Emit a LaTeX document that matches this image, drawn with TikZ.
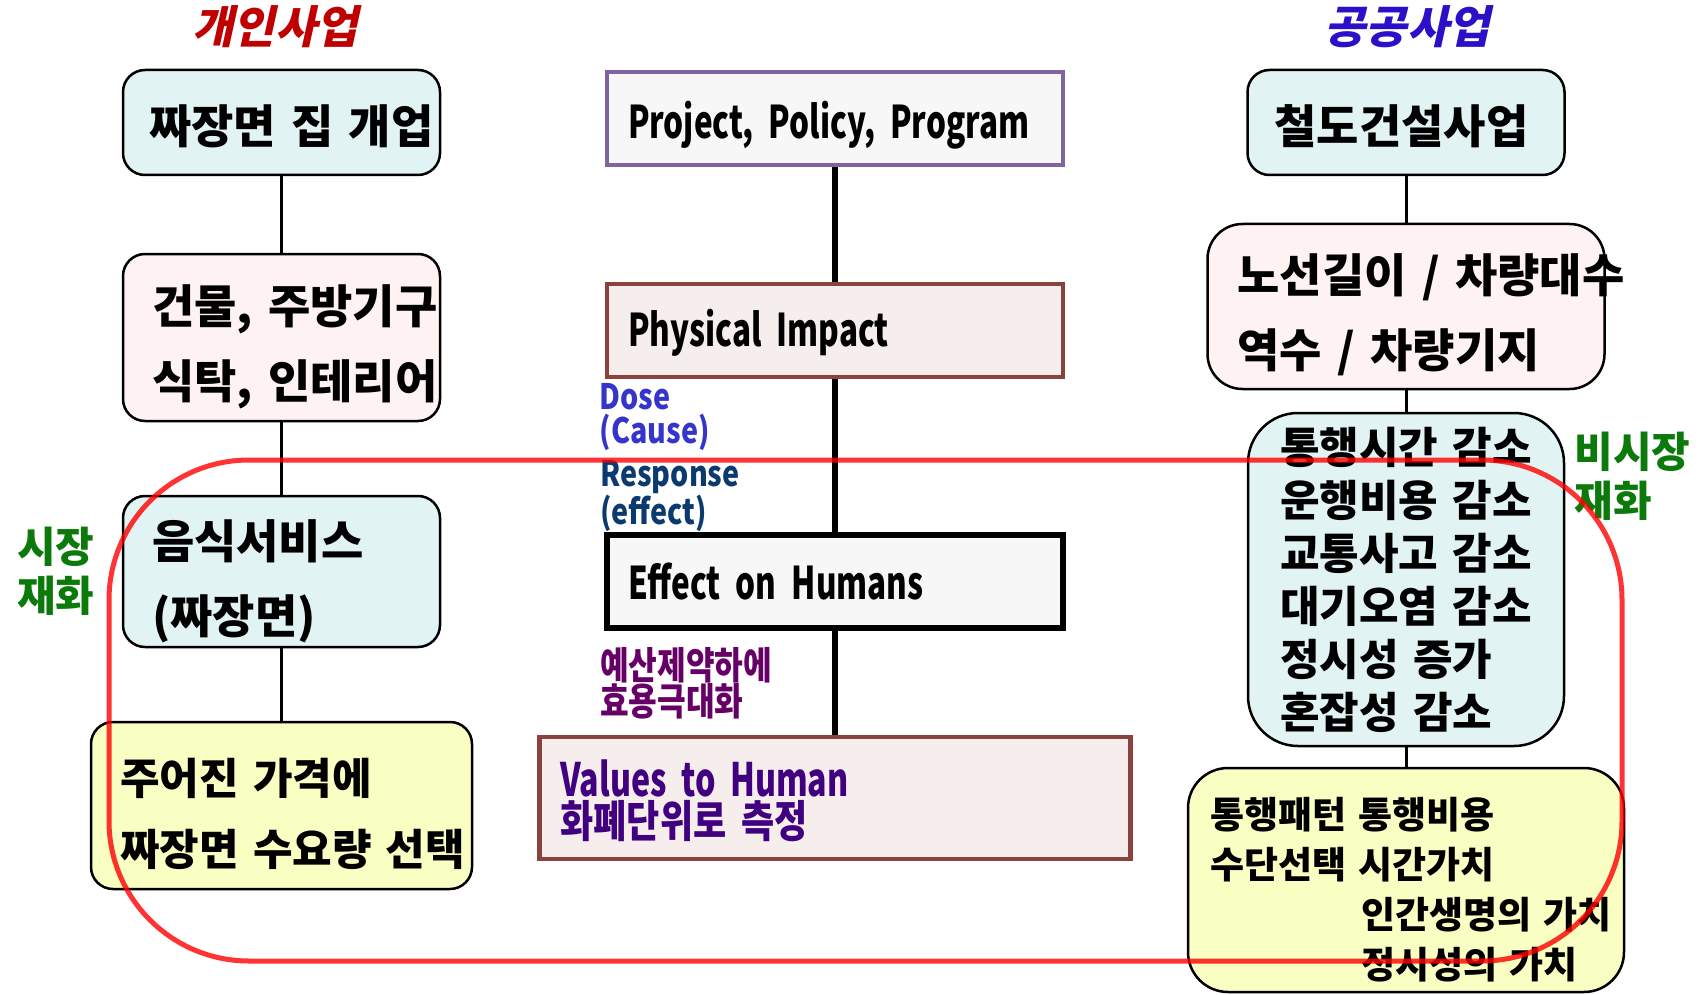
\documentclass[tikz,border=0pt]{standalone}
\usepackage{fontspec}
\setmainfont{Noto Sans CJK KR}
\newfontfamily\narrowfont{Noto Sans CJK KR}[FakeStretch=0.82]
\newfontfamily\latinfont{Noto Sans CJK KR}[FakeStretch=0.7]
\newfontfamily\slantfont{Noto Sans CJK KR}[FakeSlant=0.22]
\usetikzlibrary{positioning}

\definecolor{boxcyan}{HTML}{E1F3F3}
\definecolor{boxpink}{HTML}{FFF2F2}
\definecolor{boxyellow}{HTML}{F9FEC2}
\definecolor{boxgray}{HTML}{F7F7F7}
\definecolor{boxrose}{HTML}{F6EDED}
\definecolor{ppppurple}{HTML}{8064A2}
\definecolor{brick}{HTML}{8A423E}
\definecolor{titlered}{HTML}{C00000}
\definecolor{titleblue}{HTML}{2A10C8}
\definecolor{mktgreen}{HTML}{0B7A0B}
\definecolor{dosecol}{HTML}{3535CC}
\definecolor{respcol}{HTML}{0B3A6E}
\definecolor{budgetcol}{HTML}{660066}
\definecolor{valuecol}{HTML}{400080}

\tikzset{
  rbox/.style={draw, line width=2.5pt, rounded corners=22pt, align=left, inner ysep=0pt,
    font=\bfseries\fontsize{46}{75}\selectfont},
  textdrop/.style={execute at begin node={\rule{0pt}{#1}}},
  sbox/.style={draw, line width=4.5pt, align=left, inner xsep=21pt, inner ysep=0pt,
    minimum width=456pt, minimum height=93pt, text width=414pt,
    font=\latinfont\bfseries\fontsize{45}{50}\selectfont},
  title/.style={font=\slantfont\bfseries\fontsize{45}{48}\selectfont},
  mark label/.style={align=left, inner sep=0pt, text=mktgreen,
    font=\bfseries\fontsize{42}{49}\selectfont},
  note/.style={align=left, inner sep=0pt, font=\narrowfont\bfseries\fontsize{35}{34}\selectfont},
  link/.style={line width=3pt},
  spine/.style={line width=6pt},
  ring/.style={draw=red, line width=5pt, opacity=0.8, rounded corners=140pt}
}

\begin{document}
\begin{tikzpicture}[x=1pt,y=-1pt]
\useasboundingbox (0,0) rectangle (1705,995);

\node[title, text=titlered] (privtitle) at (275,27) {개인사업};
\node[title, text=titleblue] (pubtitle) at (1407,27) {공공사업};

\node[rbox, fill=boxcyan, minimum width=317pt, minimum height=105pt, inner xsep=26pt, text width=265pt, textdrop=47pt]
  (shop) at (281.5,122.5) {짜장면~집~개업};
\node[rbox, fill=boxpink, minimum width=317pt, minimum height=167pt, inner xsep=29pt, text width=259pt, textdrop=58pt]
  (build) at (281.5,337.5) {건물,~주방기구\\식탁,~인테리어};
\node[rbox, fill=boxcyan, minimum width=317pt, minimum height=151pt, inner xsep=29pt, text width=259pt, textdrop=58pt]
  (food) at (281.5,571.5) {음식서비스\\(짜장면)};
\node[rbox, fill=boxyellow, minimum width=381pt, minimum height=167pt, inner xsep=29pt, text width=323pt,
  font=\bfseries\fontsize{43}{71}\selectfont, textdrop=54pt]
  (demand) at (281.5,805.5) {주어진~가격에\\짜장면~수요량~선택};
\node[mark label, left=27pt of food] (mkt) {시장\\재화};

\node[sbox, draw=ppppurple, fill=boxgray, textdrop=50pt] (ppp) at (835,118.5) {Project,~Policy,~Program};
\node[sbox, draw=brick, fill=boxrose, textdrop=42pt] (phys) at (835,330.5) {Physical~Impact};
\node[sbox, fill=boxgray, line width=6pt] (effect) at (835,581.5) {Effect~on~Humans};
\node[sbox, draw=brick, fill=boxrose, minimum width=591pt, minimum height=122pt, text width=549pt,
  text=valuecol, font=\narrowfont\bfseries\fontsize{44}{41}\selectfont, textdrop=42pt]
  (value) at (835,798) {{\latinfont\fontsize{46}{41}\selectfont Values~to~Human}\\화폐단위로~측정};
\node[note, text=dosecol, below=4pt of phys.south west, anchor=north west, xshift=-5pt]
  (dose) {Dose\\(Cause)};
\node[note, text=respcol, above=0pt of effect.north west, anchor=south west, xshift=-4pt]
  (resp) {Response\\(effect)};
\node[note, text=budgetcol, below=16pt of effect.south west, anchor=north west, xshift=-4pt,
  font=\narrowfont\bfseries\fontsize{38}{35}\selectfont]
  (budget) {예산제약하에\\효용극대화};

\node[rbox, fill=boxcyan, minimum width=317pt, minimum height=105pt, inner xsep=27pt, text width=263pt,
  textdrop=47pt]
  (rail) at (1406,122.5) {철도건설사업};
\node[rbox, fill=boxpink, minimum width=397pt, minimum height=165pt, inner xsep=30pt, text width=337pt,
  rounded corners=35pt, textdrop=56pt]
  (route) at (1406,306.5) {노선길이~/~차량대수\\역수~/~차량기지};
\node[rbox, fill=boxcyan, minimum width=316pt, minimum height=333pt, inner xsep=32pt, text width=252pt,
  rounded corners=50pt, font=\bfseries\fontsize{43}{53}\selectfont]
  (benefit) at (1406,579.5) {통행시간~감소\\운행비용~감소\\교통사고~감소\\대기오염~감소\\정시성~증가\\혼잡성~감소};
\node[rbox, fill=boxyellow, minimum width=436pt, minimum height=224pt, inner xsep=22pt, text width=392pt,
  rounded corners=40pt, font=\bfseries\fontsize{37}{50}\selectfont, textdrop=50pt]
  (pattern) at (1406,880) {통행패턴~통행비용\\수단선택~시간가치\\\hspace*{151pt}인간생명의~가치\\\hspace*{151pt}정시성의~가치};
\node[mark label, below right=20pt and 9pt of benefit.north east, anchor=north west] (nonmkt) {비시장\\재화};

\path[link] (shop) edge (build) (build) edge (food) (food) edge (demand);
\path[spine] (ppp) edge (phys) (phys) edge (effect) (effect) edge (value);
\path[link] (rail) edge (route) (route) edge (benefit) (benefit) edge (pattern);

\draw[ring] (109,460) rectangle (1622,961);
\end{tikzpicture}
\end{document}
